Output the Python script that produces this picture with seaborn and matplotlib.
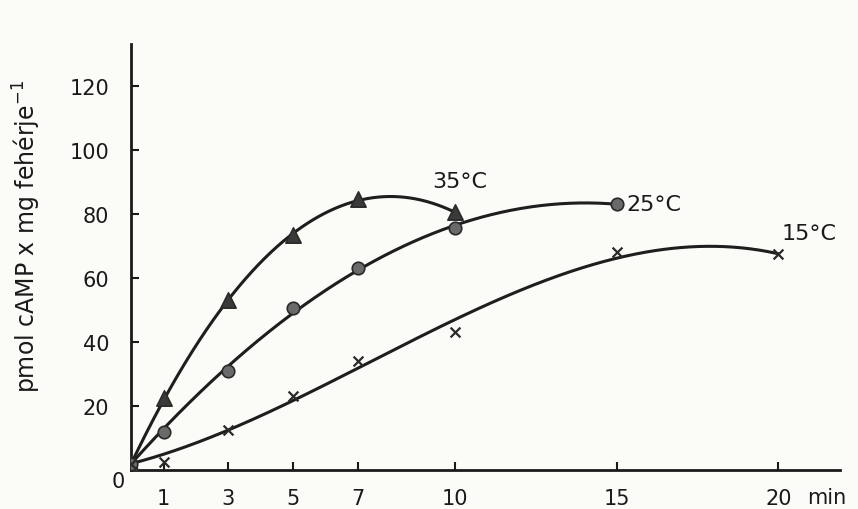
import numpy as np
import matplotlib
matplotlib.use("Agg")
import matplotlib.pyplot as plt
import seaborn as sns
import pandas as pd

# Data
time_35 = [0, 1, 3, 5, 7, 10]
camp_35 = [2, 22.5, 53, 73.5, 84.5, 80.5]
time_25 = [0, 1, 3, 5, 7, 10, 15]
camp_25 = [2, 12, 31, 50.5, 63, 75.5, 83]
time_15 = [0, 1, 3, 5, 7, 10, 15, 20]
camp_15 = [2, 2.5, 12.5, 23, 34, 43, 68, 67.5]
x_ticks = [1, 3, 5, 7, 10, 15, 20]
y_ticks = [20, 40, 60, 80, 100, 120]
labels = ["35°C", "25°C", "15°C"]


def trend(x, y, deg=3, n=300):
    """Smooth hand-drawn-style trend curve fitted to the measured points."""
    x = np.asarray(x, float)
    y = np.asarray(y, float)
    w = np.ones_like(x)
    w[0] = 20.0  # anchor the curve at the origin point
    w[-1] = 5.0
    c = np.polyfit(x, y, deg, w=w)
    xs = np.linspace(x[0], x[-1], n)
    return xs, np.polyval(c, xs)


sns.set_theme(style="white")
plt.rcParams['font.family'] = ['DejaVu Sans']

fig = plt.figure(figsize=(8.58, 5.10), dpi=100, facecolor="#fbfbf8")
ax = fig.add_axes([0.153, 0.0765, 0.826, 0.835])
ax.set_facecolor("#fbfbf8")

line_c = "#1e1e1e"
series = [
    (time_35, camp_35, "^", "#3a3a3a", 11, 3),
    (time_25, camp_25, "o", "#6a6a6a", 9, 3),
    (time_15, camp_15, "x", "#2a2a2a", 7, 3),
]
for tx, cy, mk, mc, ms, dg in series:
    sx, sy = trend(tx, cy, dg)
    sns.lineplot(x=sx, y=sy, ax=ax, color=line_c, lw=2.2, sort=False, estimator=None)
    df = pd.DataFrame({"t": tx, "c": cy})
    if mk == "x":
        sns.scatterplot(data=df, x="t", y="c", ax=ax, marker="x", color=mc, s=50,
                        linewidth=1.6, zorder=3)
    else:
        sns.scatterplot(data=df, x="t", y="c", ax=ax, marker=mk, color=mc, s=ms**2,
                        edgecolor="#2a2a2a", linewidth=1.2, zorder=3)

ax.text(9.3, 87, labels[0], fontsize=16, color="#1a1a1a", ha="left", va="bottom")
ax.text(15.3, 83, labels[1], fontsize=16, color="#1a1a1a", ha="left", va="center")
ax.text(20.1, 71, labels[2], fontsize=16, color="#1a1a1a", ha="left", va="bottom")

ax.set_xlim(0, 21.9)
ax.set_ylim(0, 133)
ax.set_xticks(x_ticks)
ax.set_xticklabels([str(v) for v in x_ticks])
ax.set_yticks(y_ticks)
ax.set_yticklabels([str(v) for v in y_ticks])
ax.tick_params(axis="both", direction="in", length=6, width=1.5, colors="#1a1a1a",
               labelsize=15, bottom=True, left=True)
ax.tick_params(axis="x", pad=13)
ax.tick_params(axis="y", pad=16)

for s in ["top", "right"]:
    ax.spines[s].set_visible(False)
for s in ["left", "bottom"]:
    ax.spines[s].set_color("#1a1a1a")
    ax.spines[s].set_linewidth(2.0)

ax.set_xlabel("")
ax.set_ylabel("pmol cAMP x mg fehérje$^{-1}$", fontsize=17, color="#1a1a1a")
ax.yaxis.set_label_coords(-0.125, 0.55)

ax.text(-0.4, -3.5, "0", fontsize=15, color="#1a1a1a", ha="center", va="center", clip_on=False)
ax.text(20.9, -8.3, "min", fontsize=15, color="#1a1a1a", ha="left", va="center", clip_on=False)

fig.savefig("out.png", dpi=100, facecolor=fig.get_facecolor())
